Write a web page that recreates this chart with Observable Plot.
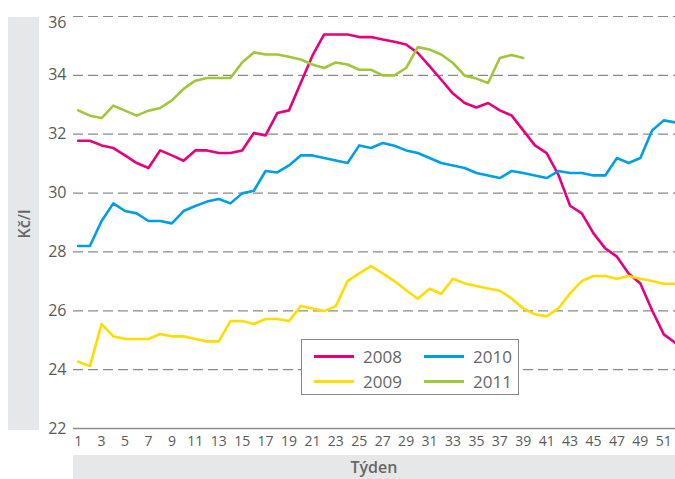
<!DOCTYPE html>
<html>
<head>
<meta charset="utf-8">
<script src="https://cdn.jsdelivr.net/npm/d3@7"></script>
<script src="https://cdn.jsdelivr.net/npm/@observablehq/plot@0.6"></script>
<style>
  html, body { margin: 0; padding: 0; background: #fff; }
  body { font-family: "Open Sans", sans-serif; color: #5a5a5a; }
  #wrap { position: relative; width: 675px; height: 479px; overflow: hidden; }
  .band { position: absolute; background: #e6e7e8; }
  #yband { left: 8px; top: 17px; width: 31px; height: 413px; }
  #yband span { position: absolute; left: 50%; top: 50%; transform: translate(-50%, -50%) rotate(-90deg); font-size: 16px; font-weight: 600; color: #666; white-space: nowrap; }
  #xband { left: 73px; top: 455px; width: 602px; height: 24px; text-align: center; line-height: 24px; font-size: 16px; font-weight: 600; color: #666; }
  #chart { position: absolute; left: 0; top: 0; }
  #legend { position: absolute; left: 301px; top: 339px; width: 218px; height: 56px; border: 1px solid #888; background: #fff; box-sizing: border-box; }
  .item { position: absolute; display: flex; align-items: center; font-size: 17px; color: #666; height: 24px; }
  .sw { width: 40px; height: 3px; margin-right: 9px; }
</style>
</head>
<body>
<div id="wrap">
  <div id="yband" class="band"><span>Kč/l</span></div>
  <div id="xband" class="band">Týden</div>
  <div id="chart"></div>
  <div id="legend"></div>
</div>
<script>
const weeks = d3.range(1, 53);
const years = ["2008", "2009", "2010", "2011"];
const colors = ["#e6007e", "#ffdd00", "#009fe3", "#a1c63a"];
const xTicks = d3.range(1, 52, 2);
const yTicks = [22, 24, 26, 28, 30, 32, 34, 36];

const v2008 = [31.78, 31.78, 31.62, 31.53, 31.28, 31.02, 30.85, 31.45, 31.28, 31.10,
  31.45, 31.45, 31.36, 31.36, 31.45, 32.04, 31.96, 32.72, 32.81, 33.74,
  34.67, 35.39, 35.39, 35.39, 35.30, 35.30, 35.22, 35.14, 35.05, 34.76,
  34.31, 33.85, 33.38, 33.06, 32.91, 33.06, 32.81, 32.64, 32.13, 31.62,
  31.36, 30.62, 29.57, 29.31, 28.63, 28.12, 27.84, 27.27, 26.93, 26.02,
  25.20, 24.91];
const v2009 = [24.27, 24.12, 25.55, 25.13, 25.04, 25.04, 25.04, 25.21, 25.13, 25.13,
  25.04, 24.96, 24.96, 25.65, 25.65, 25.55, 25.72, 25.72, 25.65, 26.16,
  26.08, 25.99, 26.16, 27.01, 27.27, 27.52, 27.27, 27.01, 26.70, 26.41,
  26.75, 26.58, 27.09, 26.93, 26.84, 26.76, 26.68, 26.42, 26.08, 25.88,
  25.81, 26.08, 26.59, 27.01, 27.18, 27.18, 27.09, 27.18, 27.09, 27.01,
  26.92, 26.92];
const v2010 = [28.20, 28.20, 29.05, 29.65, 29.39, 29.31, 29.05, 29.05, 28.97, 29.39,
  29.56, 29.71, 29.80, 29.65, 29.99, 30.08, 30.75, 30.70, 30.94, 31.28,
  31.28, 31.19, 31.11, 31.02, 31.62, 31.53, 31.70, 31.61, 31.45, 31.36,
  31.19, 31.02, 30.94, 30.85, 30.68, 30.60, 30.51, 30.75, 30.68, 30.60,
  30.51, 30.75, 30.68, 30.68, 30.60, 30.60, 31.19, 31.02, 31.19, 32.13,
  32.47, 32.40];
const v2011 = [32.81, 32.63, 32.55, 32.97, 32.80, 32.63, 32.80, 32.89, 33.15, 33.54,
  33.82, 33.91, 33.91, 33.91, 34.44, 34.78, 34.71, 34.71, 34.63, 34.54,
  34.37, 34.25, 34.44, 34.37, 34.19, 34.19, 34.00, 34.00, 34.25, 34.96,
  34.88, 34.71, 34.42, 33.99, 33.89, 33.74, 34.59, 34.69, 34.59];

const series = [v2008, v2009, v2010, v2011];
const rows = [];
series.forEach((vals, i) => vals.forEach((v, j) => rows.push({week: weeks[j], value: v, year: years[i]})));

const chart = Plot.plot({
  width: 675,
  height: 479,
  marginLeft: 73,
  marginRight: 0,
  marginTop: 16,
  marginBottom: 51,
  style: {fontFamily: "'Open Sans', sans-serif", background: "transparent", color: "#5a5a5a"},
  x: {domain: [0.6, 52], axis: null},
  y: {domain: [22, 36], axis: null},
  color: {domain: years, range: colors},
  marks: [
    Plot.gridY(yTicks.filter(d => d > 22), {stroke: "#8a8a8a", strokeOpacity: 1, strokeWidth: 1.2, strokeDasharray: "10,5"}),
    Plot.ruleY([22], {stroke: "#8a8a8a", strokeWidth: 1.5}),
    Plot.axisY(yTicks.filter(d => d < 36), {tickSize: 0, tickPadding: 7, fontSize: 16, fill: "#5a5a5a", label: null}),
    Plot.axisY([36], {tickSize: 0, tickPadding: 7, fontSize: 16, fill: "#5a5a5a", label: null, dy: 6}),
    Plot.axisX(xTicks, {tickSize: 0, tickPadding: 8, fontSize: 14, fill: "#5a5a5a", tickFormat: d => String(d), label: null}),
    Plot.lineY(rows, {x: "week", y: "value", z: "year", stroke: "year", strokeWidth: 2.6, curve: "linear"})
  ]
});
document.getElementById("chart").appendChild(chart);

const legend = document.getElementById("legend");
const pos = [[12, 4], [12, 29], [122, 4], [122, 29]];
const order = ["2008", "2009", "2010", "2011"];
order.forEach((y, i) => {
  const it = document.createElement("div");
  it.className = "item";
  it.style.left = pos[i][0] + "px";
  it.style.top = pos[i][1] + "px";
  const sw = document.createElement("div");
  sw.className = "sw";
  sw.style.background = colors[years.indexOf(y)];
  const t = document.createElement("span");
  t.textContent = y;
  it.appendChild(sw);
  it.appendChild(t);
  legend.appendChild(it);
});
</script>
</body>
</html>
